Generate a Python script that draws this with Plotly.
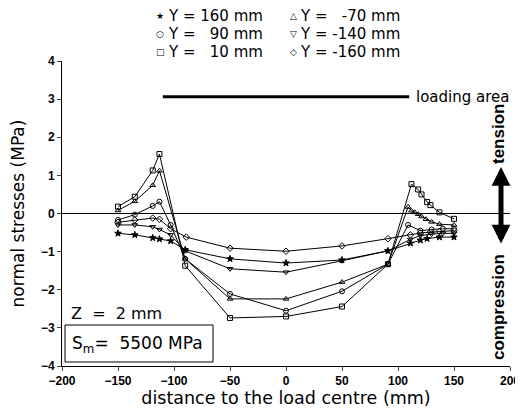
import plotly.graph_objects as go

# ---- data ----
x_star = [-150, -135, -119, -113, -103, -90, -50, 0, 50, 91, 111, 120, 126, 137, 150]
y_star = [-0.52, -0.56, -0.64, -0.67, -0.72, -0.95, -1.19, -1.30, -1.22, -0.98, -0.78, -0.70, -0.66, -0.62, -0.62]

x_circ = [-150, -135, -119, -113, -103, -90, -50, 0, 50, 91, 109, 120, 130, 140, 150]
y_circ = [-0.17, -0.03, 0.20, 0.31, -0.30, -1.19, -2.11, -2.55, -2.04, -1.33, -0.30, -0.45, -0.42, -0.40, -0.40]

x_sq = [-150, -135, -119, -113, -90, -50, 0, 50, 91, 112, 118, 121, 126, 129, 137, 150]
y_sq = [0.18, 0.44, 1.13, 1.56, -1.37, -2.74, -2.70, -2.44, -1.33, 0.77, 0.63, 0.50, 0.30, 0.22, 0.03, -0.14]

x_tri = [-150, -135, -119, -113, -90, -50, 0, 50, 91, 109, 112, 115, 118, 121, 125, 130, 137, 150]
y_tri = [0.08, 0.32, 0.74, 1.12, -1.19, -2.24, -2.24, -1.80, -1.33, 0.17, 0.07, 0.03, -0.02, -0.08, -0.15, -0.22, -0.28, -0.30]

x_dtri = [-150, -135, -119, -113, -103, -90, -50, 0, 50, 91, 111, 120, 130, 140, 150]
y_dtri = [-0.30, -0.30, -0.35, -0.42, -0.56, -0.98, -1.45, -1.54, -1.24, -0.98, -0.68, -0.58, -0.54, -0.52, -0.52]

x_dia = [-150, -135, -119, -113, -103, -89, -50, 0, 50, 91, 111, 120, 129, 137, 150]
y_dia = [-0.23, -0.17, -0.12, -0.15, -0.40, -0.62, -0.91, -0.99, -0.85, -0.66, -0.56, -0.51, -0.49, -0.47, -0.45]

series_names = ["Y = 160 mm", "Y =   90 mm", "Y =   10 mm", "Y =   -70 mm", "Y = -140 mm", "Y = -160 mm"]
series_symbols = ["star", "circle-open", "square-open", "triangle-up-open", "triangle-down-open", "diamond-open"]
legend_glyphs = ["\u2605", "\u25CB", "\u25A1", "\u25B3", "\u25BD", "\u25C7"]

loading_area = [-110, 110]
loading_level = 3.06

x_ticks = [-200, -150, -100, -50, 0, 50, 100, 150, 200]
y_ticks = [-4, -3, -2, -1, 0, 1, 2, 3, 4]

xs = [x_star, x_circ, x_sq, x_tri, x_dtri, x_dia]
ys = [y_star, y_circ, y_sq, y_tri, y_dtri, y_dia]

FONT = "Liberation Sans"
WIDE = "DejaVu Sans"

fig = go.Figure()
for xv, yv, nm, sym in zip(xs, ys, series_names, series_symbols):
    fig.add_trace(go.Scatter(
        x=xv, y=yv, name=nm, mode="lines+markers",
        line=dict(color="black", width=1),
        marker=dict(symbol=sym, size=5, color="black",
                    line=dict(color="black", width=1)),
        showlegend=False,
    ))

# zero line
fig.add_shape(type="line", xref="x", yref="y", x0=-200, x1=200, y0=0, y1=0,
              line=dict(color="black", width=1))
# loading area bar
fig.add_shape(type="line", xref="x", yref="y", x0=loading_area[0], x1=loading_area[1],
              y0=loading_level, y1=loading_level, line=dict(color="black", width=3))
fig.add_annotation(xref="x", yref="y", x=loading_area[1] + 5, y=loading_level,
                   text="loading area", showarrow=False, xanchor="left", yanchor="middle",
                   borderpad=0, font=dict(family=WIDE, size=15, color="black"))

# legend built from text (positions given in reference-pixel terms of the plot area)
def px_x(p):
    return (p - 62) / 448.0

def px_y(p):
    return (366 - p) / 305.0

rows_py = [16, 34, 52]
cols = [(160, 167), (293, 299)]
order = [[0, 3], [1, 4], [2, 5]]
for r, pair in enumerate(order):
    for c, idx in enumerate(pair):
        gx, tx = cols[c]
        fig.add_annotation(xref="paper", yref="paper", x=px_x(gx), y=px_y(rows_py[r]),
                           text=legend_glyphs[idx], showarrow=False, xanchor="center", yanchor="middle",
                           borderpad=0, font=dict(family="DejaVu Sans", size=9, color="black"))
        fig.add_annotation(xref="paper", yref="paper", x=px_x(tx), y=px_y(rows_py[r]),
                           text=series_names[idx].replace("  ", "&nbsp;&nbsp;"), showarrow=False,
                           xanchor="left", yanchor="middle", borderpad=0,
                           font=dict(family=WIDE, size=15, color="black"))

# Z and Sm labels
fig.add_annotation(xref="paper", yref="paper", x=px_x(69), y=px_y(313),
                   text="Z&nbsp;&nbsp;=&nbsp;&nbsp;2 mm", showarrow=False, xanchor="left", yanchor="middle",
                   font=dict(family=WIDE, size=16, color="black"))
fig.add_shape(type="rect", xref="paper", yref="paper", x0=px_x(65), x1=px_x(213),
              y0=px_y(362), y1=px_y(325), line=dict(color="black", width=1))
fig.add_annotation(xref="paper", yref="paper", x=px_x(70), y=px_y(344),
                   text="S<sub>m</sub>=&nbsp;&nbsp;5500 MPa", showarrow=False, xanchor="left", yanchor="middle",
                   font=dict(family=WIDE, size=17, color="black"))

# tension / compression
fig.add_annotation(xref="paper", yref="paper", x=px_x(498), y=px_y(134),
                   text="tension", showarrow=False, textangle=-90,
                   xanchor="center", yanchor="middle", borderpad=0,
                   font=dict(family=FONT, size=17, color="black", weight="bold"))
fig.add_annotation(xref="paper", yref="paper", x=px_x(498), y=px_y(307),
                   text="compression", showarrow=False, textangle=-90,
                   xanchor="center", yanchor="middle", borderpad=0,
                   font=dict(family=FONT, size=17, color="black", weight="bold"))
fig.add_annotation(xref="paper", yref="paper", x=px_x(501), y=px_y(167),
                   ax=0, ay=78, text="", showarrow=True, arrowside="end+start",
                   arrowhead=2, arrowsize=0.75, arrowwidth=5, arrowcolor="black")

# page body has an 8 px offset, so the figure is 8 px smaller than the window
fig.update_layout(
    width=515, height=400,
    margin=dict(l=54, r=13, t=53, b=42),
    paper_bgcolor="white", plot_bgcolor="white",
    font=dict(family=FONT, color="black"),
    xaxis=dict(range=[-200, 200], tickvals=x_ticks, ticks="outside", ticklen=4,
               automargin=False,
               showline=True, linecolor="black", linewidth=1, showgrid=False, zeroline=False,
               tickfont=dict(family=FONT, size=12, weight="bold"),
               title=dict(text="distance to the load centre (mm)", standoff=0,
                          font=dict(family=WIDE, size=17.5))),
    yaxis=dict(range=[-4, 4], tickvals=y_ticks, ticks="outside", ticklen=4,
               automargin=False,
               showline=True, linecolor="black", linewidth=1, showgrid=False, zeroline=False,
               tickfont=dict(family=FONT, size=12, weight="bold"),
               title=dict(text="normal stresses (MPa)", standoff=12,
                          font=dict(family=WIDE, size=17))),
)

fig.write_html("out.html")
